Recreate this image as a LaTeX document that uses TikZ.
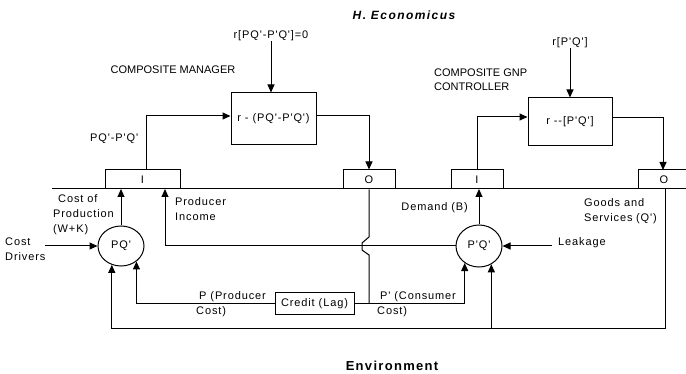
\documentclass[tikz,border=0pt]{standalone}
\usepackage{fontspec}
\usetikzlibrary{arrows.meta,shapes.geometric,calc}
\newfontfamily\lab{Liberation Sans}[LetterSpace=8]
\newfontfamily\capf{Liberation Sans}
\newfontfamily\titf{Liberation Sans}[LetterSpace=12]
\newfontfamily\envf{Liberation Sans}[LetterSpace=10]
\tikzset{
  ln/.style={line width=1pt},
  arr/.style={ln,-{Triangle[length=8pt,width=7pt]}},
  blk/.style={draw,ln,rectangle,inner sep=0pt,font=\lab\fontsize{11}{13}\selectfont},
  sumnode/.style={draw,ln,ellipse,inner sep=0pt,font=\lab\fontsize{11}{13}\selectfont},
  txt/.style={inner sep=0pt,font=\lab\fontsize{11}{15}\selectfont,align=left},
  captxt/.style={inner sep=0pt,font=\capf\fontsize{11}{14}\selectfont,align=left}
}
\begin{document}
\begin{tikzpicture}[x=1pt,y=-1pt]
\useasboundingbox (0,0) rectangle (686,374);
% main line
\coordinate (ml0) at (52,189);
\coordinate (ml1) at (686,189);
\draw[ln] (ml0) -- (ml1);
% boxes on the line
\node[blk,minimum width=75pt,minimum height=19pt] (i1) at (142.5,179.5) {I};
\node[blk,minimum width=52pt,minimum height=19pt] (o1) at (369,179.5) {O};
\node[blk,minimum width=52pt,minimum height=19pt] (i2) at (477,179.5) {I};
\node[inner sep=0pt,font=\lab\fontsize{11}{13}\selectfont] (o2) at (664,179.5) {O};
\draw[ln] (687,170) -- (638,170) -- (638,189);
% controller boxes
\node[blk,minimum width=85pt,minimum height=52pt] (m) at (273.5,119) {r - (PQ'-P'Q')};
\node[blk,minimum width=84pt,minimum height=48pt] (g) at (570,122) {r --[P'Q']};
% top labels
\node[inner sep=0pt,font=\titf\bfseries\itshape\fontsize{12}{14}\selectfont] (title) at (404,15) {H. Economicus};
\node[captxt] (cm) at (173,70) {COMPOSITE MANAGER};
\node[captxt,anchor=west] (cg) at (434,80) {COMPOSITE GNP\\CONTROLLER};
\node[txt] (rm) at (271,36) {r[PQ'-P'Q']=0};
\node[txt] (rg) at (570,43) {r[P'Q']};
\node[txt,anchor=west] (pqd) at (90,139) {PQ'-P'Q'};
% top connectors
\draw[arr] (rm.south) -- (rm.south |- m.north);
\draw[arr] (rg.south) -- (g.north);
\draw[arr] ([xshift=3.5pt]i1.north) |- ($(m.west)+(0,-3)$);
\draw[arr] ($(m.east)+(0,-3)$) -| (o1.north);
\draw[arr] (i2.north) |- ($(g.west)+(0,-5)$);
\draw[arr] ($(g.east)+(0,-4)$) -| ([xshift=-1pt]o2.north |- 0,170);
% circles
\node[sumnode,minimum width=46pt,minimum height=40pt] (pq) at (121,246) {PQ'};
\node[sumnode,minimum width=46pt,minimum height=42pt] (pq2) at (479,246) {P'Q'};
\node[blk,minimum width=79pt,minimum height=22pt] (cr) at (314.5,304) {Credit (Lag)};
% lower labels
\node[txt,anchor=west] (cop) at (53,215) {\hspace*{5pt}Cost of\\Production\\(W+K)};
\node[txt,anchor=west] (cd) at (5,249.5) {Cost\\Drivers};
\node[txt,anchor=west] (pi) at (175,209.5) {Producer\\Income};
\node[txt,anchor=east] (dem) at (468,208) {Demand (B)};
\node[txt,anchor=west] (lk) at (558,243) {Leakage};
\node[txt,anchor=west] (gs) at (584,211.5) {Goods and\\Services\,\,(Q')};
\node[txt,anchor=west] (pp) at (196,304.5) {\hspace*{3pt}P (Producer\\Cost)};
\node[txt,anchor=west] (pc) at (377,304.5) {\hspace*{3pt}P' (Consumer\\Cost)};
\node[inner sep=0pt,font=\envf\bfseries\fontsize{13}{15}\selectfont] (env) at (392,366) {Environment};
% lower connectors
\coordinate (cds) at (45,246);
\draw[arr] (cds) -- (pq.west);
\draw[arr] (pq.north) -- (pq.north |- ml0);
\draw[arr] (pq2.north) -- (pq2.north |- ml0);
\coordinate (lks) at (552,246);
\draw[arr] (lks) -- (pq2.east);
\coordinate (pib) at (165,246);
\coordinate (pit) at (165,189);
\draw[arr] (pq2.west) -- (pib) -- (pit);
% output of manager down to credit line with crossing bracket
\coordinate (oc) at (369,304);
\draw[ln] (o1.south) -- (369,237) -- (362,243) -- (362,250) -- (369,255) -- (oc);
\draw[arr] (cr.west) -| (pq.-45);
\draw[arr] (cr.east) -| (pq2.-130);
% goods and services loop
\coordinate (gt) at (665,189);
\coordinate (gb) at (665,329);
\draw[arr] (gt) -- (gb) -| (pq.-116);
\draw[arr] (pq2.-56 |- gb) -- (pq2.-56);
\end{tikzpicture}
\end{document}
